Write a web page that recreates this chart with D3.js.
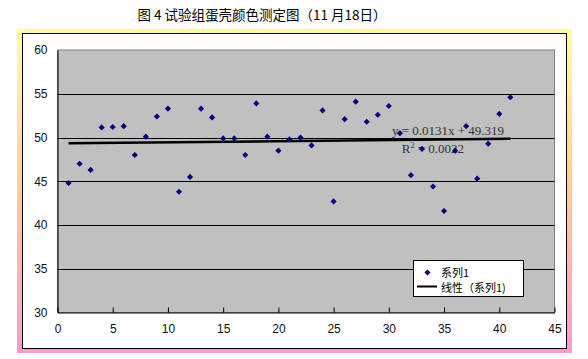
<!DOCTYPE html>
<html><head><meta charset="utf-8">
<script src="https://cdn.jsdelivr.net/npm/d3@7"></script>
<style>body{margin:0;background:#fff}svg{display:block}</style>
</head><body>
<svg id="c" width="588" height="359"></svg>
<script>
const xValues = [1,2,3,4,5,6,7,8,9,10,11,12,13,14,15,16,17,18,19,20,21,22,23,24,25,26,27,28,29,30,31,32,33,34,35,36,37,38,39,40,41];
const yValues = [44.8,47.0,46.3,51.15,51.2,51.3,48.0,50.1,52.4,53.3,43.8,45.5,53.3,52.3,49.9,49.9,48.0,53.9,50.1,48.5,49.8,50.0,49.1,53.1,42.7,52.1,54.1,51.8,52.6,53.6,50.5,45.7,48.7,44.4,41.6,48.5,51.3,45.3,49.3,52.7,54.6];
const xTicks = [0,5,10,15,20,25,30,35,40,45];
const yTicks = [30,35,40,45,50,55,60];
const trendSlope = [0.0131];
const trendIntercept = [49.319];
const title = "图 4 试验组蛋壳颜色测定图（11 月18日）";
const eqLabels = ["y = 0.0131x + 49.319", "0.0022"];
const legendLabels = ["系列1", "线性（系列1)"];

const svg = d3.select("#c");
const defs = svg.append("defs");
const grad = defs.append("linearGradient").attr("id","g").attr("x1",0).attr("y1",0).attr("x2",0).attr("y2",1);
grad.append("stop").attr("offset","0%").attr("stop-color","#FFFF99");
grad.append("stop").attr("offset","50%").attr("stop-color","#FFCC99");
grad.append("stop").attr("offset","100%").attr("stop-color","#FF99CC");

svg.append("text").attr("x",262).attr("y",20).attr("text-anchor","middle")
  .attr("font-family","'Noto Sans CJK SC', sans-serif").attr("font-size",13.5).attr("fill","#000").text(title);

svg.append("rect").attr("x",17).attr("y",29).attr("width",555).attr("height",324).attr("fill","url(#g)");
svg.append("rect").attr("x",22.5).attr("y",33.5).attr("width",544).attr("height",315).attr("fill","#fff").attr("stroke","#000").attr("stroke-width",1);

const L=57.5, R=554.5, T=50, B=312.5;
const x = d3.scaleLinear().domain([0,45]).range([L,R]);
const y = d3.scaleLinear().domain([30,60]).range([B,T]);

svg.append("rect").attr("x",L).attr("y",T).attr("width",R-L).attr("height",B-T).attr("fill","#C0C0C0").attr("stroke","#808080");

// gridlines
svg.append("g").selectAll("line").data(yTicks.filter(d=>d>30&&d<60)).join("line")
  .attr("x1",L).attr("x2",R).attr("y1",d=>Math.round(y(d))+0.5).attr("y2",d=>Math.round(y(d))+0.5)
  .attr("stroke","#000").attr("stroke-width",1);

// axes
const xa = svg.append("g").attr("transform",`translate(0,${B})`)
  .call(d3.axisBottom(x).tickValues(xTicks).tickSizeInner(-5).tickSizeOuter(0).tickPadding(12));
xa.select(".domain").attr("stroke","#000");
xa.selectAll(".tick line").attr("stroke","#000");
xa.selectAll("text").attr("font-family","'Liberation Sans', Arial, sans-serif").attr("font-size",12).attr("fill","#111");

const ya = svg.append("g").attr("transform",`translate(${L},0)`)
  .call(d3.axisLeft(y).tickValues(yTicks).tickSizeInner(0).tickSizeOuter(0).tickPadding(10));
ya.select(".domain").attr("stroke","#000");
ya.selectAll("text").attr("font-family","'Liberation Sans', Arial, sans-serif").attr("font-size",12).attr("fill","#111");

// trendline
const xe = d3.extent(xValues);
svg.append("line").attr("x1",x(xe[0])).attr("x2",x(xe[1]))
  .attr("y1",y(trendIntercept[0]+trendSlope[0]*xe[0])).attr("y2",y(trendIntercept[0]+trendSlope[0]*xe[1]))
  .attr("stroke","#000").attr("stroke-width",2.5);

// equation text
const eqFont = "'Liberation Serif', 'DejaVu Serif', serif";
svg.append("text").attr("x",448).attr("y",135).attr("text-anchor","middle")
  .attr("font-family",eqFont).attr("font-size",13).attr("fill","#333").text(eqLabels[0]);
const r2 = svg.append("text").attr("x",433).attr("y",153).attr("text-anchor","middle")
  .attr("font-family",eqFont).attr("font-size",13).attr("fill","#333");
r2.append("tspan").text("R");
r2.append("tspan").attr("dy",-5).attr("font-size",8).text("2");
r2.append("tspan").attr("dy",5).text(" = " + eqLabels[1]);

// points
const sym = d3.symbol().type(d3.symbolDiamond2).size(24);
svg.append("g").selectAll("path").data(xValues.map((d,i)=>[d,yValues[i]])).join("path")
  .attr("transform",d=>`translate(${x(d[0])},${y(d[1])})`).attr("d",sym).attr("fill","#000080");

// legend
const lg = svg.append("g");
lg.append("rect").attr("x",413.5).attr("y",260.5).attr("width",110).attr("height",36).attr("fill","#fff").attr("stroke","#000");
lg.append("path").attr("transform","translate(427.5,272.5)").attr("d",sym).attr("fill","#000080");
lg.append("line").attr("x1",417).attr("x2",437).attr("y1",286.5).attr("y2",286.5).attr("stroke","#000").attr("stroke-width",2);
lg.selectAll("text").data(legendLabels).join("text")
  .attr("x",441).attr("y",(d,i)=>276.5+i*15)
  .attr("font-family","'Noto Sans CJK SC', sans-serif").attr("font-size",11).attr("fill","#000").text(d=>d);
</script>
</body></html>
